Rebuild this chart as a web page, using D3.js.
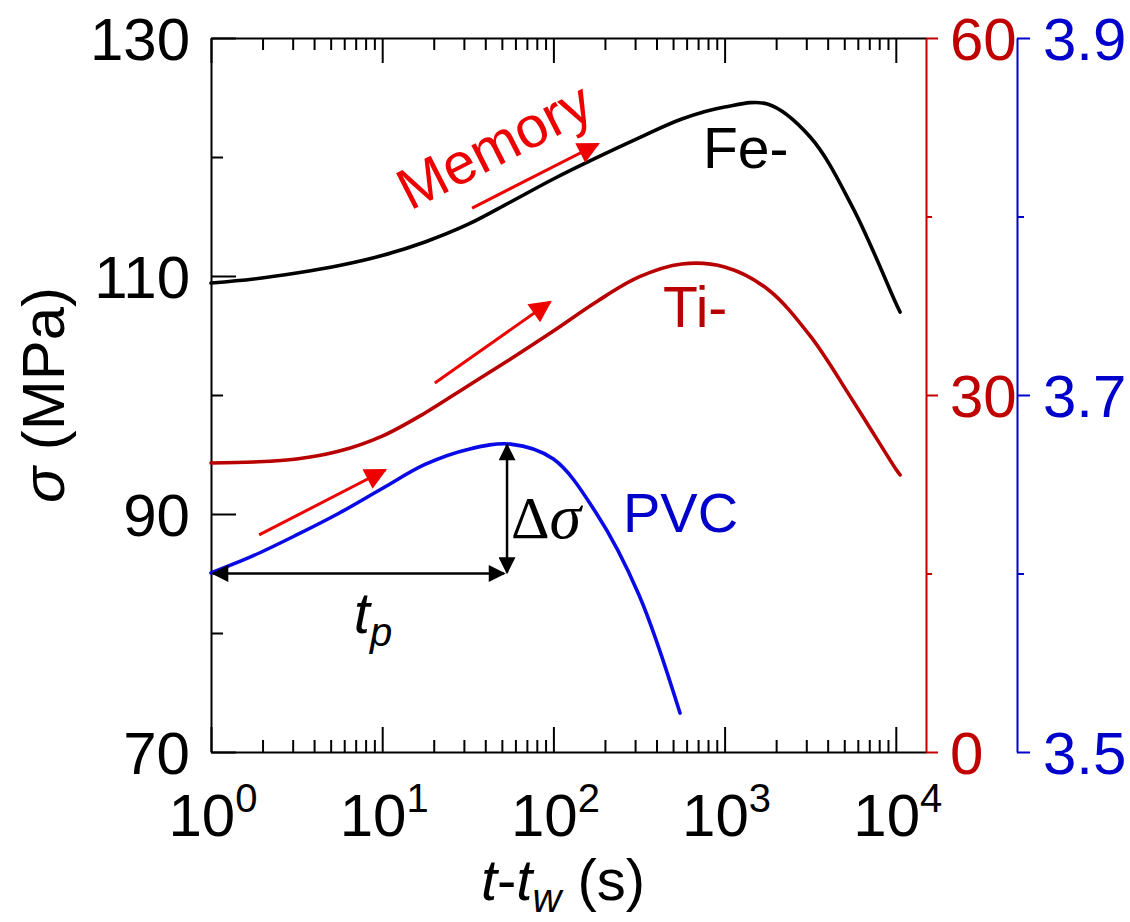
<!DOCTYPE html>
<html>
<head>
<meta charset="utf-8">
<script src="https://cdn.jsdelivr.net/npm/d3@7"></script>
<style>
  html, body { margin: 0; padding: 0; background: #fff; }
  svg { display: block; font-family: "Liberation Sans", Arial, sans-serif; }
</style>
</head>
<body>
<svg id="chart" width="1130" height="922"></svg>
<script>
// ---- data ----
const timeFe   = [1, 1.778, 3.162, 5.623, 10, 17.78, 31.62, 56.23, 100, 177.8, 316.2, 562.3, 1000, 1778, 3162, 5623, 10000, 10590];
const stressFe = [109.41, 109.75, 110.25, 110.88, 111.72, 112.86, 114.33, 116.22, 118.15, 119.92, 121.60, 123.19, 124.20, 124.45, 121.68, 115.71, 107.73, 106.97];

const timeTi   = [1, 1.778, 3.162, 5.623, 10, 17.78, 31.62, 56.23, 100, 177.8, 316.2, 562.3, 1000, 1778, 3162, 5623, 10000, 10590];
const stressTi = [24.29, 24.37, 24.62, 25.29, 26.55, 28.49, 30.76, 33.03, 35.38, 37.82, 39.92, 41.01, 40.76, 38.91, 34.96, 29.50, 23.78, 23.28];

const timePVC   = [1, 1.778, 3.162, 5.623, 10, 17.78, 31.62, 56.23, 100, 177.8, 316.2, 549];
const stressPVC = [3.6003, 3.6101, 3.6216, 3.6339, 3.6476, 3.6611, 3.6695, 3.6725, 3.6641, 3.6339, 3.5880, 3.5218];

const xMajorTicks = [1, 10, 100, 1000, 10000];
const xTickExponents = ["0", "1", "2", "3", "4"];
const leftMajorTicks = [70, 90, 110, 130];
const leftMinorTicks = [80, 100, 120];
const redMajorTicks = [0, 30, 60];
const redMinorTicks = [15, 45];
const blueMajorTicks = [3.5, 3.7, 3.9];
const blueMinorTicks = [3.6, 3.8];

// annotation anchors (data coordinates: time, MPa on left axis)
const memoryArrows = [
  { from: [1.91, 88.24], to: [10.4, 93.70] },
  { from: [20.3, 101.01], to: [95.5, 107.82] },
  { from: [33.5, 115.71], to: [182, 121.09] }
];
const peakTimePVC = 53.6;
const peakStressPVC = 3.6731;
const startStressPVC = 3.600;

// ---- layout ----
const svg = d3.select("#chart");
const L = 211, R = 926, T = 38, B = 752;
const RED = "#c00000", BLUE = "#0000cc", BRIGHT = "#ee0000";

const x = d3.scaleLog().domain([1, 15010]).range([L, R]);
const yL = d3.scaleLinear().domain([70, 130]).range([B, T]);
const yR = d3.scaleLinear().domain([0, 60]).range([B, T]);
const yB = d3.scaleLinear().domain([3.5, 3.9]).range([B, T]);

const xMinor = [];
for (let d = 1; d <= 10000; d *= 10) for (let k = 2; k <= 9; k++) if (d * k <= 15010) xMinor.push(d * k);

// defs: arrowheads
const defs = svg.append("defs");
function marker(id, color, w, h) {
  defs.append("marker").attr("id", id)
    .attr("viewBox", "0 0 10 10").attr("refX", 9).attr("refY", 5)
    .attr("markerUnits", "userSpaceOnUse")
    .attr("markerWidth", w).attr("markerHeight", h)
    .attr("orient", "auto-start-reverse")
    .append("path").attr("d", "M0,0 L10,5 L0,10 Z").attr("fill", color);
}
marker("headBlack", "#000", 22, 17);
marker("headRed", BRIGHT, 34, 22);

function styleAxis(g, color) {
  g.selectAll("path.domain").attr("stroke", color).attr("stroke-width", 2);
  g.selectAll(".tick line").attr("stroke", color).attr("stroke-width", 2);
}

// bottom axis
let g = svg.append("g").attr("transform", `translate(0,${B})`)
  .call(d3.axisBottom(x).tickValues(xMajorTicks).tickSizeInner(-25).tickSizeOuter(0).tickFormat(""));
styleAxis(g, "#000");
g = svg.append("g").attr("transform", `translate(0,${B})`)
  .call(d3.axisBottom(x).tickValues(xMinor).tickSizeInner(-12).tickSizeOuter(0).tickFormat(""));
styleAxis(g, "#000"); g.select("path.domain").remove();

// top axis
g = svg.append("g").attr("transform", `translate(0,${T})`)
  .call(d3.axisTop(x).tickValues(xMajorTicks).tickSizeInner(-25).tickSizeOuter(0).tickFormat(""));
styleAxis(g, "#000");
g = svg.append("g").attr("transform", `translate(0,${T})`)
  .call(d3.axisTop(x).tickValues(xMinor).tickSizeInner(-12).tickSizeOuter(0).tickFormat(""));
styleAxis(g, "#000"); g.select("path.domain").remove();

// x tick labels with superscripts
const xl = svg.append("g").attr("font-size", 60).attr("fill", "#000");
xMajorTicks.forEach((v, i) => {
  const t = xl.append("text").attr("x", x(v) + 2).attr("y", 836).attr("text-anchor", "middle");
  t.append("tspan").text("10");
  t.append("tspan").attr("font-size", 40).attr("dy", -24).text(xTickExponents[i]);
});

// left axis
g = svg.append("g").attr("transform", `translate(${L},0)`)
  .call(d3.axisLeft(yL).tickValues(leftMajorTicks).tickSizeInner(-25).tickSizeOuter(0).tickPadding(21));
styleAxis(g, "#000");
g.selectAll("text").attr("font-size", 60).attr("fill", "#000").attr("dy", "0.36em")
  .attr("font-family", "Liberation Sans, Arial, sans-serif");
g = svg.append("g").attr("transform", `translate(${L},0)`)
  .call(d3.axisLeft(yL).tickValues(leftMinorTicks).tickSizeInner(-12).tickSizeOuter(0).tickFormat(""));
styleAxis(g, "#000"); g.select("path.domain").remove();

// red right axis
g = svg.append("g").attr("transform", `translate(${R},0)`)
  .call(d3.axisRight(yR).tickValues(redMajorTicks).tickSizeInner(12).tickSizeOuter(0).tickPadding(12));
styleAxis(g, RED);
g.selectAll("text").attr("font-size", 60).attr("fill", RED).attr("dy", "0.36em")
  .attr("font-family", "Liberation Sans, Arial, sans-serif");
g = svg.append("g").attr("transform", `translate(${R},0)`)
  .call(d3.axisRight(yR).tickValues(redMinorTicks).tickSizeInner(6).tickSizeOuter(0).tickFormat(""));
styleAxis(g, RED); g.select("path.domain").remove();

// blue right axis
const BX = 1017;
g = svg.append("g").attr("transform", `translate(${BX},0)`)
  .call(d3.axisRight(yB).tickValues(blueMajorTicks).tickSizeInner(13).tickSizeOuter(0).tickPadding(13).tickFormat(d3.format(".1f")));
styleAxis(g, BLUE);
g.selectAll("text").attr("font-size", 60).attr("fill", BLUE).attr("dy", "0.36em")
  .attr("font-family", "Liberation Sans, Arial, sans-serif");
g = svg.append("g").attr("transform", `translate(${BX},0)`)
  .call(d3.axisRight(yB).tickValues(blueMinorTicks).tickSizeInner(7).tickSizeOuter(0).tickFormat(""));
styleAxis(g, BLUE); g.select("path.domain").remove();

// curves
function drawCurve(ts, vs, yScale, color) {
  const pts = ts.map((t, i) => [x(t), yScale(vs[i])]);
  svg.append("path").attr("d", d3.line().curve(d3.curveCatmullRom.alpha(0.5))(pts))
    .attr("fill", "none").attr("stroke", color).attr("stroke-width", 3.6)
    .attr("stroke-linejoin", "round").attr("stroke-linecap", "round");
}
drawCurve(timeFe, stressFe, yL, "#000");
drawCurve(timeTi, stressTi, yR, "#b80000");
drawCurve(timePVC, stressPVC, yB, "#0a0ae6");

// red memory arrows
memoryArrows.forEach(a => {
  svg.append("line")
    .attr("x1", x(a.from[0])).attr("y1", yL(a.from[1]))
    .attr("x2", x(a.to[0])).attr("y2", yL(a.to[1]))
    .attr("stroke", BRIGHT).attr("stroke-width", 3)
    .attr("marker-end", "url(#headRed)");
});

// Δσ and t_p double arrows
svg.append("line")
  .attr("x1", x(peakTimePVC)).attr("y1", yB(peakStressPVC) + 2)
  .attr("x2", x(peakTimePVC)).attr("y2", yB(startStressPVC) - 1)
  .attr("stroke", "#000").attr("stroke-width", 2.5)
  .attr("marker-start", "url(#headBlack)").attr("marker-end", "url(#headBlack)");
svg.append("line")
  .attr("x1", x(1) + 2).attr("y1", yB(startStressPVC))
  .attr("x2", x(peakTimePVC) - 3).attr("y2", yB(startStressPVC))
  .attr("stroke", "#000").attr("stroke-width", 2.5)
  .attr("marker-start", "url(#headBlack)").attr("marker-end", "url(#headBlack)");

// labels
svg.append("text").attr("x", 703).attr("y", 168).attr("font-size", 57).attr("fill", "#000").text("Fe-");
svg.append("text").attr("x", 663).attr("y", 327).attr("font-size", 57).attr("fill", "#b80000").text("Ti-");
svg.append("text").attr("x", 623).attr("y", 532).attr("font-size", 56).attr("fill", BLUE).text("PVC");

const ds = svg.append("text").attr("x", 511).attr("y", 538).attr("font-size", 60)
  .attr("font-family", "Liberation Serif, Times New Roman, serif").attr("fill", "#000");
ds.append("tspan").text("Δ");
ds.append("tspan").attr("font-style", "italic").attr("font-size", 64).text("σ");

const tp = svg.append("text").attr("x", 373).attr("y", 633).attr("font-size", 58)
  .attr("text-anchor", "middle").attr("fill", "#000");
tp.append("tspan").attr("font-style", "italic").text("t");
tp.append("tspan").attr("font-style", "italic").attr("font-size", 40).attr("dy", 13).text("p");

svg.append("text").attr("transform", "translate(410,211) rotate(-27)")
  .attr("font-size", 58).attr("fill", BRIGHT).text("Memory");

// axis titles
const xt = svg.append("text").attr("x", 563).attr("y", 900).attr("font-size", 58)
  .attr("text-anchor", "middle").attr("fill", "#000");
xt.append("tspan").attr("font-style", "italic").text("t");
xt.append("tspan").text("-");
xt.append("tspan").attr("font-style", "italic").text("t");
xt.append("tspan").attr("font-style", "italic").attr("font-size", 40).attr("dy", 12).text("w");
xt.append("tspan").attr("dy", -12).text(" (s)");

const yt = svg.append("text").attr("transform", `translate(64,${(T + B) / 2}) rotate(-90)`)
  .attr("font-size", 60).attr("text-anchor", "middle").attr("fill", "#000");
yt.append("tspan").attr("font-style", "italic").text("σ");
yt.append("tspan").text(" (MPa)");
</script>
</body>
</html>
